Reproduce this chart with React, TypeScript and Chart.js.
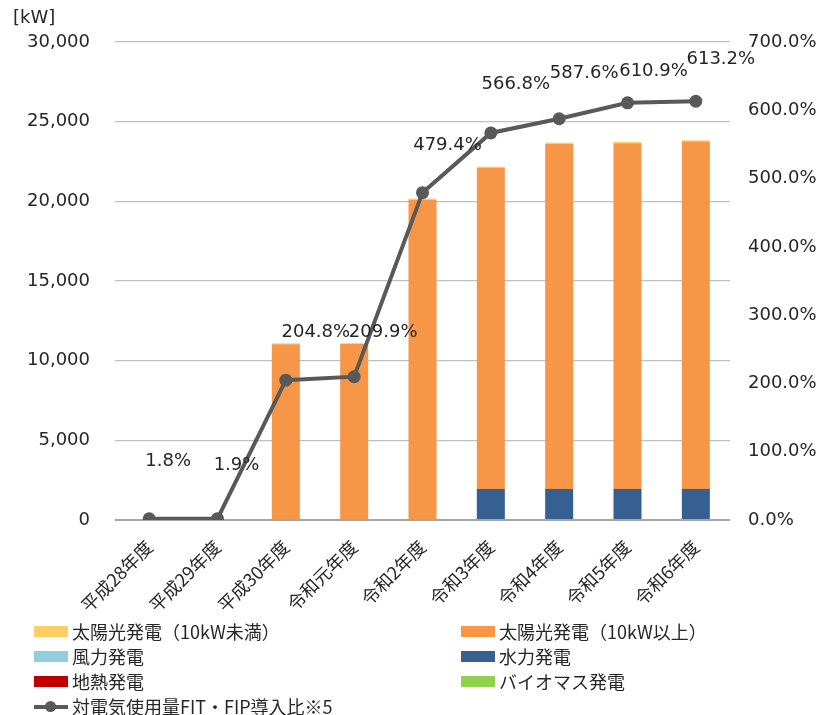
import React, { useEffect, useRef } from "react";
import { Chart, registerables } from "chart.js";

Chart.register(...registerables);

const categories = ["平成28年度", "平成29年度", "平成30年度", "令和元年度", "令和2年度", "令和3年度", "令和4年度", "令和5年度", "令和6年度"];
const solarSmall = [5, 5, 60, 60, 70, 70, 80, 80, 80];
const solarLarge = [55, 60, 11030, 11040, 20100, 20155, 21650, 21695, 21800];
const wind = [0, 0, 0, 0, 0, 0, 0, 0, 0];
const hydro = [0, 0, 0, 0, 0, 1950, 1950, 1950, 1950];
const geothermal = [0, 0, 0, 0, 0, 0, 0, 0, 0];
const biomass = [0, 0, 0, 0, 0, 0, 0, 0, 0];
const fitRatio = [1.8, 1.9, 204.8, 209.9, 479.4, 566.8, 587.6, 610.9, 613.2];

const leftMax = 30000;
const leftStep = 5000;
const rightMax = 700;
const rightStep = 100;

// label nudges (dx, dy in px) relative to each point, as placed in the original
const labelNudges: [number, number][] = [
  [19, -57], [19, -53], [30, -48], [29, -44], [25, -47], [25, -49], [25, -45], [26, -32], [25, -42],
];

const NAME_SOLAR_SMALL = "太陽光発電（10kW未満）";
const NAME_SOLAR_LARGE = "太陽光発電（10kW以上）";
const NAME_WIND = "風力発電";
const NAME_HYDRO = "水力発電";
const NAME_GEO = "地熱発電";
const NAME_BIO = "バイオマス発電";
const NAME_LINE = "対電気使用量FIT・FIP導入比※5";

const C_SOLAR_SMALL = "#FFCC66";
const C_SOLAR_LARGE = "#F79646";
const C_WIND = "#92CDDC";
const C_HYDRO = "#366092";
const C_GEO = "#C00000";
const C_BIO = "#92D050";
const C_LINE = "#595959";

const legendItems = [
  { name: NAME_SOLAR_SMALL, color: C_SOLAR_SMALL, col: 0, row: 0, line: false },
  { name: NAME_SOLAR_LARGE, color: C_SOLAR_LARGE, col: 1, row: 0, line: false },
  { name: NAME_WIND, color: C_WIND, col: 0, row: 1, line: false },
  { name: NAME_HYDRO, color: C_HYDRO, col: 1, row: 1, line: false },
  { name: NAME_GEO, color: C_GEO, col: 0, row: 2, line: false },
  { name: NAME_BIO, color: C_BIO, col: 1, row: 2, line: false },
  { name: NAME_LINE, color: C_LINE, col: 0, row: 3, line: true },
];

const W = 818;
const H = 621;
const TEXT = "#262626";
const NUM_FONT = '"DejaVu Sans", Verdana, sans-serif';
const JP_FONT = '"Noto Sans CJK JP", sans-serif';

const overlayPlugin = {
  id: "overlayLabels",
  afterDatasetsDraw(chart: any) {
    const ctx = chart.ctx;
    const idx = chart.data.datasets.findIndex((d: any) => d.type === "line");
    const meta = chart.getDatasetMeta(idx);
    ctx.save();
    ctx.font = `18px ${NUM_FONT}`;
    ctx.fillStyle = TEXT;
    ctx.textAlign = "center";
    ctx.textBaseline = "middle";
    meta.data.forEach((pt: any, i: number) => {
      const [dx, dy] = labelNudges[i];
      ctx.fillText(`${fitRatio[i].toFixed(1)}%`, pt.x + dx, pt.y + dy);
    });
    ctx.textAlign = "left";
    ctx.fillText("[kW]", chart.chartArea.left - 102, chart.chartArea.top - 24);
    ctx.restore();
  },
};

function ChartCanvas() {
  const ref = useRef<HTMLCanvasElement | null>(null);
  useEffect(() => {
    if (!ref.current) return;
    const bar = (label: string, data: number[], color: string, order: number) => ({
      type: "bar" as const,
      label,
      data,
      backgroundColor: color,
      borderWidth: 0,
      yAxisID: "y",
      order,
      barPercentage: 0.41,
      categoryPercentage: 1.0,
    });
    const chart = new Chart(ref.current, {
      type: "bar",
      data: {
        labels: categories,
        datasets: [
          {
            type: "line",
            label: NAME_LINE,
            data: fitRatio,
            yAxisID: "y1",
            borderColor: C_LINE,
            backgroundColor: C_LINE,
            borderWidth: 4,
            pointRadius: 6.5,
            pointBackgroundColor: C_LINE,
            pointBorderWidth: 0,
            tension: 0,
            order: 0,
          } as any,
          bar(NAME_HYDRO, hydro, C_HYDRO, 1),
          bar(NAME_WIND, wind, C_WIND, 2),
          bar(NAME_GEO, geothermal, C_GEO, 3),
          bar(NAME_BIO, biomass, C_BIO, 4),
          bar(NAME_SOLAR_LARGE, solarLarge, C_SOLAR_LARGE, 5),
          bar(NAME_SOLAR_SMALL, solarSmall, C_SOLAR_SMALL, 6),
        ],
      },
      options: {
        responsive: false,
        animation: false,
        layout: { padding: { top: 42, left: 0, right: 0, bottom: 0 } },
        plugins: {
          legend: { display: false },
          tooltip: { enabled: false },
        },
        scales: {
          x: {
            stacked: true,
            grid: { display: false },
            border: { display: false },
            ticks: {
              minRotation: 45,
              maxRotation: 45,
              padding: 8,
              color: TEXT,
              font: { family: JP_FONT, size: 18 },
            },
            afterFit: (s: any) => {
              s.height = H - 520;
            },
          },
          y: {
            stacked: true,
            position: "left",
            min: 0,
            max: leftMax,
            grid: {
              color: (c: any) => (c.tick && c.tick.value === 0 ? "#A6A6A6" : "#C0C0C0"),
              lineWidth: (c: any) => (c.tick && c.tick.value === 0 ? 2 : 1.3),
              drawTicks: false,
            },
            border: { display: false },
            ticks: {
              stepSize: leftStep,
              padding: 25,
              color: TEXT,
              font: { family: NUM_FONT, size: 18 },
              callback: (v: any) => Number(v).toLocaleString("en-US"),
            },
            afterFit: (s: any) => {
              s.width = 115;
            },
          },
          y1: {
            position: "right",
            min: 0,
            max: rightMax,
            grid: { display: false, drawTicks: false },
            border: { display: false },
            ticks: {
              stepSize: rightStep,
              padding: 18,
              color: TEXT,
              font: { family: NUM_FONT, size: 18 },
              callback: (v: any) => `${Number(v).toFixed(1)}%`,
            },
            afterFit: (s: any) => {
              s.width = 88;
            },
          },
        },
      },
      plugins: [overlayPlugin],
    });
    return () => chart.destroy();
  }, []);
  return <canvas ref={ref} width={W} height={H} style={{ display: "block", width: W, height: H }} />;
}

export default function App() {
  const colLeft = [34, 461];
  const rowTop = 619;
  const rowH = 25;
  return (
    <div style={{ position: "absolute", left: 0, top: 0, width: W, height: 715, background: "#fff" }}>
      <ChartCanvas />
      {legendItems.map((it) => (
        <div
          key={it.name}
          style={{
            position: "absolute",
            left: colLeft[it.col],
            top: rowTop + it.row * rowH,
            height: rowH,
            display: "flex",
            alignItems: "center",
            fontFamily: JP_FONT,
            fontSize: 18,
            color: TEXT,
            whiteSpace: "nowrap",
          }}
        >
          {it.line ? (
            <span style={{ position: "relative", width: 34, height: 11, marginRight: 4, display: "inline-block" }}>
              <span style={{ position: "absolute", left: 0, top: 3.5, width: 34, height: 4, background: it.color }} />
              <span
                style={{ position: "absolute", left: 11, top: 0, width: 11, height: 11, borderRadius: "50%", background: it.color }}
              />
            </span>
          ) : (
            <span style={{ width: 34, height: 11, background: it.color, marginRight: 4, display: "inline-block" }} />
          )}
          <span style={{ lineHeight: `${rowH}px` }}>{it.name}</span>
        </div>
      ))}
    </div>
  );
}
